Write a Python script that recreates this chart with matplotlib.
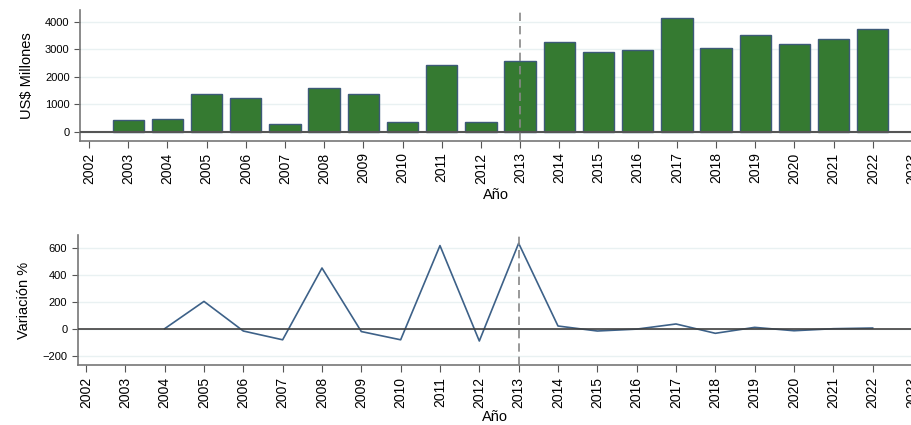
import numpy as np
import matplotlib.pyplot as plt

plt.rcParams['font.family'] = ['Liberation Sans', 'DejaVu Sans']

## Datos
anios = [2003, 2004, 2005, 2006, 2007, 2008, 2009, 2010, 2011, 2012,
         2013, 2014, 2015, 2016, 2017, 2018, 2019, 2020, 2021, 2022]
millones = [424, 460, 1382, 1224, 291, 1600, 1370, 339, 2412, 352,
            2582, 3273, 2897, 2970, 4133, 3042, 3515, 3176, 3358, 3745]

anios_var = [2004, 2005, 2006, 2007, 2008, 2009, 2010, 2011, 2012, 2013,
             2014, 2015, 2016, 2017, 2018, 2019, 2020, 2021, 2022]
variacion = [5, 207, -12, -77, 454, -16, -77, 620, -86, 637,
             25, -12, 2, 40, -29, 15, -10, 5, 10]

ticks_x = np.arange(2002, 2024)
corte = 2013

verde = '#357a31'
borde = '#3d5a78'
linea = '#3d6188'
rejilla = '#e9f1f2'

fig = plt.figure(figsize=(9.12, 4.25), dpi=100)

## Panel superior: barras
ax1 = fig.add_axes([0.0877, 0.669, 1 - 0.0877, 0.3075])
ax1.bar(anios, millones, width=0.8, color=verde, edgecolor=borde, linewidth=1, zorder=3)
ax1.axhline(0, color='#555555', linewidth=1.5, zorder=4)
ax1.axvline(corte, color='#888888', linestyle=(0, (5, 3)), linewidth=1.2, zorder=5)
ax1.set_xlim(2001.77, 2023.0)
ax1.set_ylim(-330, 4430)
ax1.set_yticks([0, 1000, 2000, 3000, 4000])
ax1.set_ylabel('US$ Millones', fontsize=10.5, labelpad=8)
ax1.set_xlabel('Año', fontsize=10.5, labelpad=3)

## Panel inferior: variacion
ax2 = fig.add_axes([0.0852, 0.141, 1 - 0.0852, 0.306])
ax2.plot(anios_var, variacion, color=linea, linewidth=1.2, zorder=3)
ax2.axhline(0, color='#404040', linewidth=1.2, zorder=4)
ax2.axvline(corte, color='#888888', linestyle=(0, (5, 3)), linewidth=1.2, zorder=5)
ax2.set_xlim(2001.79, 2023.0)
ax2.set_ylim(-264, 698)
ax2.set_yticks([-200, 0, 200, 400, 600])
ax2.set_ylabel('Variación %', fontsize=10.5, labelpad=8)
ax2.set_xlabel('Año', fontsize=10.5, labelpad=1)

for ax in (ax1, ax2):
    ax.spines['top'].set_visible(False)
    ax.spines['right'].set_visible(False)
    ax.spines['left'].set_color('#777777')
    ax.spines['bottom'].set_color('#777777')
    ax.spines['left'].set_linewidth(1.2)
    ax.spines['bottom'].set_linewidth(1.2)
    ax.set_xticks(ticks_x)
    ax.set_xticklabels([str(a) for a in ticks_x])
    ax.tick_params(axis='x', labelrotation=90, labelsize=10, length=5, color='#555555')
    ax.tick_params(axis='y', labelsize=8, length=4, color='#555555')
    ax.grid(axis='y', color=rejilla, linewidth=1, zorder=0)

fig.savefig('out.png', dpi=100)
